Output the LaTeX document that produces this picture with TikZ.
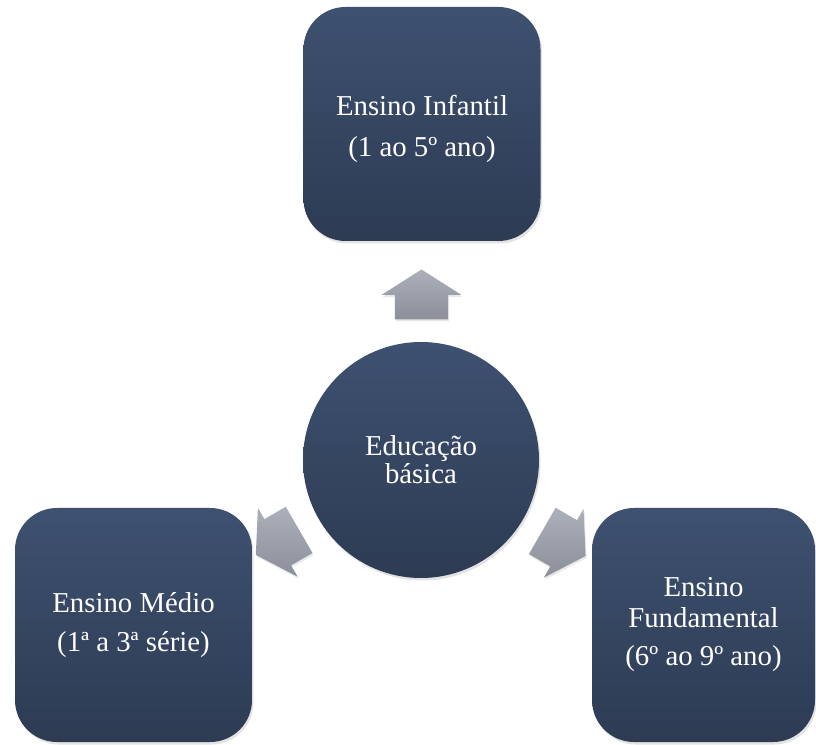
\documentclass[tikz,border=0pt]{standalone}
\usepackage{fontspec}
\setmainfont{Liberation Serif}
\usetikzlibrary{positioning,shapes.arrows,shadows,calc}
\definecolor{slatetop}{RGB}{62,81,112}
\definecolor{slatebot}{RGB}{45,59,83}
\definecolor{greytop}{RGB}{172,176,186}
\definecolor{greybot}{RGB}{138,143,153}
\tikzset{
  % --- school stages ---------------------------------------------------------
  stage/.style={rectangle,rounded corners=42pt,top color=slatetop,
                bottom color=slatebot,draw=none,text=white,align=center,
                minimum width=237pt,minimum height=234pt,inner sep=0pt,
                font=\fontsize{28.8}{31}\selectfont,
                drop shadow={opacity=0.22,shadow xshift=1.5pt,shadow yshift=-2.5pt}},
  hub/.style={stage,circle,minimum size=236pt,
              font=\fontsize{28.8}{28}\selectfont},
  % --- block arrows: shaft 53pt wide, head 79pt ------------------------------
  push/.style={single arrow,single arrow head extend=13pt,
               single arrow tip angle=115,minimum height=50pt,minimum width=79pt,
               inner xsep=0pt,inner ysep=26.5pt,
               top color=greytop,bottom color=greybot,draw=none,
               drop shadow={opacity=0.18,shadow xshift=1pt,shadow yshift=-2pt}},
}
\begin{document}
\begin{tikzpicture}[x=1pt,y=1pt]
  \useasboundingbox (0,0) rectangle (816,744);

  \node[hub] (edu) at (421,284) {Educação\\básica};
  % the rule only lifts the first line, so the text sits a bit low
  \node[stage] (infantil) at (422,620)
       {\rule{0pt}{30pt}Ensino Infantil\\[10pt](1 ao 5º ano)};
  \node[stage] (medio) at (133.5,119) {Ensino Médio\\[8pt](1ª a 3ª série)};
  \node[stage,minimum width=223pt] (fundamental) at (703.5,119)
       {Ensino\\Fundamental\\[7pt](6º ao 9º ano)};

  % arrows sit out from the hub, pointing at each stage
  \foreach \to/\ang in {infantil/90,medio/210,fundamental/330}{
    \node[push,rotate=\ang] (arr-\to) at ($(edu)!157pt!(\to)$) {};
  }
\end{tikzpicture}
\end{document}
